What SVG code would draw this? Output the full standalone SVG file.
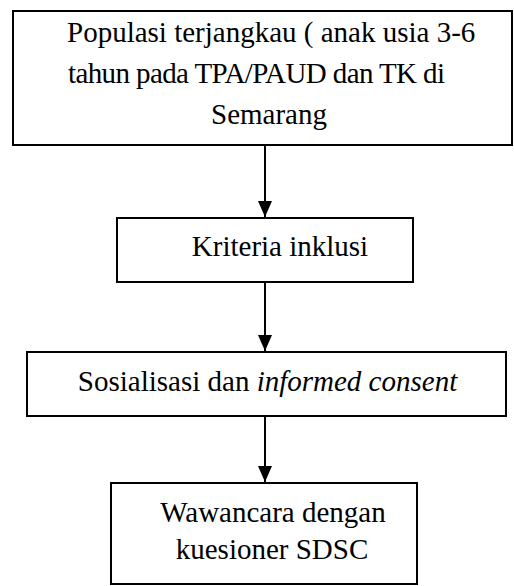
<svg xmlns="http://www.w3.org/2000/svg" width="514" height="586" viewBox="0 0 514 586">
<style>
.box{fill:#fff;stroke:#000;stroke-width:2}
.t{font-family:"Liberation Serif","Times New Roman",serif;font-size:29px;fill:#000}
.c{stroke:#000;stroke-width:2;fill:none}
</style>
<defs>
<marker id="arr" markerUnits="userSpaceOnUse" markerWidth="16" markerHeight="14" viewBox="0 0 16 14" refX="16" refY="7" orient="auto">
<path d="M0,0 L16,7 L0,14 Z" fill="#000"/>
</marker>
</defs>
<rect width="514" height="586" fill="#fff"/>
<g id="connectors">
<line class="c" x1="265" y1="146" x2="265" y2="217" marker-end="url(#arr)"/>
<line class="c" x1="265" y1="283" x2="265" y2="351" marker-end="url(#arr)"/>
<line class="c" x1="265" y1="417" x2="265" y2="482" marker-end="url(#arr)"/>
</g>
<g id="node1">
<rect class="box" x="13" y="11" width="499" height="134"/>
<text class="t" x="67" y="42">Populasi terjangkau ( anak usia 3-6</text>
<text class="t" x="68" y="83" textLength="377" lengthAdjust="spacing">tahun pada TPA/PAUD dan TK di</text>
<text class="t" x="269" y="124" text-anchor="middle">Semarang</text>
</g>
<g id="node2">
<rect class="box" x="117" y="218" width="296" height="64"/>
<text class="t" x="280" y="256" text-anchor="middle">Kriteria inklusi</text>
</g>
<g id="node3">
<rect class="box" x="27" y="352" width="479" height="64"/>
<text class="t" x="267.5" y="391" text-anchor="middle">Sosialisasi dan <tspan font-style="italic">informed consent</tspan></text>
</g>
<g id="node4">
<rect class="box" x="111" y="483" width="306" height="101"/>
<text class="t" x="273" y="522" text-anchor="middle">Wawancara dengan</text>
<text class="t" x="272" y="559" text-anchor="middle">kuesioner SDSC</text>
</g>
</svg>
